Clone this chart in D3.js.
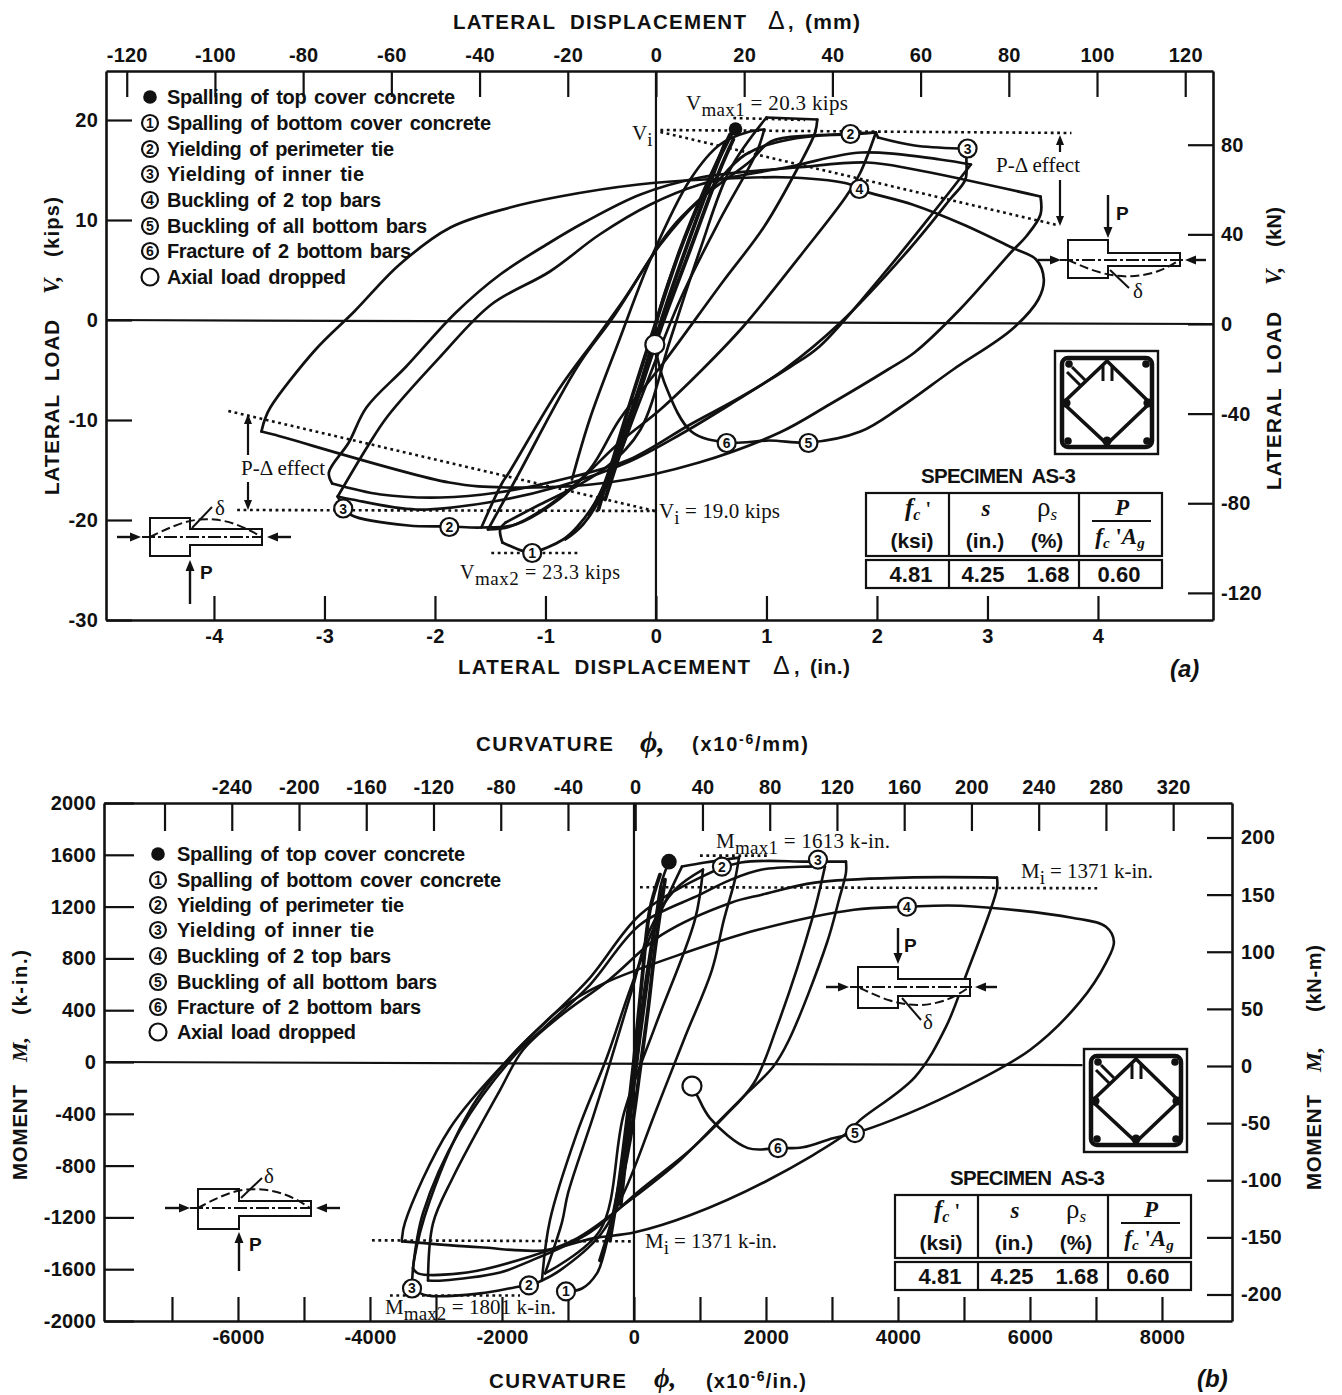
<!DOCTYPE html>
<html><head><meta charset="utf-8">
<script src="https://cdn.jsdelivr.net/npm/d3@7"></script>
<style>html,body{margin:0;background:#fff}svg{display:block}</style></head><body>
<div id="c"></div>
<script>
// ---------- tick labels ----------
const aLeftTicks=[20,10,0,-10,-20,-30], aBottomTicks=[-4,-3,-2,-1,0,1,2,3,4];
const aTopTicks=[-120,-100,-80,-60,-40,-20,0,20,40,60,80,100,120], aRightTicks=[80,40,0,-40,-80,-120];
const bLeftTicks=[2000,1600,1200,800,400,0,-400,-800,-1200,-1600,-2000];
const bBottomTicks=[-7000,-6000,-5000,-4000,-3000,-2000,-1000,0,1000,2000,3000,4000,5000,6000,7000,8000];
const bBottomLabelled=[-6000,-4000,-2000,0,2000,4000,6000,8000];
const bTopTicks=[-280,-240,-200,-160,-120,-80,-40,0,40,80,120,160,200,240,280,320];
const bTopLabelled=[-240,-200,-160,-120,-80,-40,0,40,80,120,160,200,240,280,320];
const bRightTicks=[200,150,100,50,0,-50,-100,-150,-200];
const legendLabels=["Spalling of top cover concrete","Spalling of bottom cover concrete","Yielding of perimeter tie","Yielding of inner tie","Buckling of 2 top bars","Buckling of all bottom bars","Fracture of 2 bottom bars","Axial load dropped"];
const legendMarks=["f","1","2","3","4","5","6","o"];
const legendWidths=[288,324,227,197,214,260,244,179];
const tableValues=["4.81","4.25","1.68","0.60"];

// ---------- (a) lateral load: [displacement in., load kips] ----------
const aFinal=[[3.48,12.35],[3.48,10.55],[3.35,8.35],[3.22,6.85],[2.75,1.05],[2.34,-3.25],[2.10,-4.95],[1.57,-8.45],[1.12,-11.25],[0.39,-14.25],[-0.43,-16.25],[-1.36,-16.75],[-1.87,-16.25],[-3.46,-11.45],[-3.57,-11.15],[-3.54,-9.95],[-3.49,-8.75],[-3.08,-2.95],[-2.73,0.85],[-2.32,5.55],[-1.86,9.25],[-1.32,11.25],[-0.87,12.35],[-0.16,13.55],[0.44,14.05],[1.22,14.25],[1.76,13.55],[1.84,13.05],[2.32,11.55],[2.78,9.55],[3.22,7.25],[3.44,6.05],[3.51,4.05],[3.46,2.05],[3.22,-0.95],[2.69,-4.95],[2.21,-8.75],[1.85,-11.15],[1.38,-12.25],[1.03,-12.05],[0.64,-12.25],[0.32,-11.15],[0.09,-6.65],[0.01,-3.65],[-0.01,-2.45]];
const aCycle3=[[2.82,17.15],[2.81,16.25],[2.80,14.05],[2.66,12.05],[2.29,7.05],[1.67,-0.25],[1.16,-4.95],[0.67,-8.45],[0.22,-11.45],[-0.24,-14.15],[-0.88,-16.65],[-1.52,-18.25],[-2.17,-18.95],[-2.75,-17.95],[-2.88,-17.65],[-2.61,-12.65],[-2.43,-9.65],[-1.95,-3.65],[-1.49,1.55],[-0.96,4.85],[-0.51,8.55],[-0.05,11.55],[0.40,13.55],[1.22,15.35],[1.86,16.75],[2.57,16.05],[2.85,15.55],[2.51,10.75],[2.04,4.35],[1.48,-2.65],[1.22,-4.65],[0.76,-7.75],[0.31,-10.45],[-0.24,-13.95],[-0.78,-15.75],[-1.43,-17.25],[-1.95,-17.75],[-2.49,-17.45],[-2.93,-16.35],[-2.96,-15.25],[-2.78,-12.25],[-2.62,-8.75],[-2.26,-4.65],[-1.81,0.75],[-1.41,4.55],[-0.96,7.75],[-0.65,9.75],[-0.14,12.55],[0.40,14.25],[1.27,15.25],[1.91,15.75],[2.34,15.05],[3.48,12.35]];
const aCycle2Up=[[-1.58,-20.75],[-1.39,-16.25],[-1.33,-15.25],[-0.88,-6.95],[-0.55,-1.95],[-0.29,2.05],[0.04,7.55],[0.40,12.05],[0.85,15.85],[1.04,17.85],[1.39,18.45],[1.76,18.55],[1.99,18.75],[2.01,18.25],[2.34,17.45],[2.75,17.15],[2.82,17.15]];
const aCycle2Down=[[1.99,18.75],[1.85,14.75],[1.72,12.35],[1.33,6.75],[0.79,-0.65],[0.42,-4.95],[0.04,-8.95],[-0.33,-12.25],[-0.88,-17.95],[-1.27,-20.45],[-1.58,-20.75],[-1.87,-20.65],[-2.24,-20.55],[-2.75,-19.55],[-2.82,-18.75],[-2.88,-17.65]];
const aCycle2Second=[[-1.52,-20.95],[-1.27,-15.95],[-0.71,-4.65],[-0.37,0.55],[0.13,9.05],[0.49,13.05],[0.81,16.55],[1.21,18.05],[1.99,18.75]];
const aCycle1Down=[[1.46,20.05],[1.44,18.75],[1.29,15.35],[0.98,9.35],[0.60,3.75],[0.07,-4.25],[-0.33,-9.95],[-0.60,-14.95],[-0.96,-18.45],[-1.32,-20.65],[-1.52,-20.95]];
const aPeakNeg=[[-1.36,-20.25],[-1.41,-20.95],[-1.39,-22.25],[-1.19,-23.15],[-1.12,-23.25],[-0.84,-21.95],[-0.71,-20.65],[-0.52,-17.65],[-0.39,-13.95],[-0.23,-9.25],[-0.06,-3.25],[0.06,2.05],[0.31,9.55],[0.53,15.05],[0.71,19.05]];
const aPeakPos=[[-1.36,-20.25],[-1.05,-18.45],[-0.69,-16.45],[-0.42,-14.45],[-0.14,-10.95],[0.13,-1.95],[0.40,7.05],[0.67,15.05],[1.00,20.25],[1.46,20.05]];
const aSmall=[[-0.76,-15.95],[-0.60,-9.95],[-0.33,-1.95],[-0.05,6.05],[0.31,14.05],[0.58,17.55],[0.85,18.85],[0.98,19.05],[0.91,16.75],[0.58,10.05],[0.22,2.05],[-0.14,-7.95],[-0.46,-16.95],[-0.66,-20.45],[-0.82,-21.95]];
const aBundle1=[[-0.52,-18.95],[-0.28,-9.95],[-0.05,-1.95],[0.22,7.05],[0.44,13.05],[0.67,18.55]];
const aBundle2=[[0.62,17.55],[0.35,9.55],[0.08,1.05],[-0.16,-7.45],[-0.40,-14.95],[-0.60,-19.45]];
const aBundle3=[[-0.46,-17.95],[-0.14,-6.95],[0.04,-0.95],[0.31,7.05],[0.58,15.05],[0.70,18.05]];
const aMarkers=[["f",0.72,19.1],["1",-1.12,-23.3],["2",1.76,18.6],["2",-1.87,-20.7],["3",2.82,17.15],["3",-2.83,-18.85],["4",1.84,13.1],["5",1.38,-12.3],["6",0.64,-12.3],["o",-0.01,-2.45]];
const aDotted=[[[0.04,19.0],[3.76,18.7]],[[0.04,18.8],[3.63,9.5]],[[-3.79,-19.0],[-0.01,-19.1]],[[-3.87,-9.1],[-0.01,-19.1]],[[0.70,20.2],[1.35,20.0]],[[-1.49,-23.3],[-0.71,-23.3]]];

// ---------- (b) moment: [curvature 1e-6/in., moment k-in.] ----------
const bFinalUp=[[-3121,-1687],[-3045,-1246],[-2742,-890],[-2030,-217],[-1682,93],[-1136,348],[-379,634],[424,983],[1470,1230],[1939,1292],[2742,1385],[4106,1424],[5500,1424]];
const bFinalDown=[[5500,1424],[5500,1340],[5045,689],[4727,271],[4257,-116],[3424,-449],[3227,-549],[2030,-913],[848,-1184],[15,-1315],[-621,-1362],[-1379,-1455],[-2333,-1431],[-3515,-1385],[-3515,-1362],[-3469,-1238],[-2788,-511],[-1773,93],[-1424,271],[-1076,426],[-439,611],[773,843],[1879,1021],[3333,1176],[4136,1199],[4954,1207],[6636,1114],[7151,1044],[7272,928],[7151,766],[6757,464],[6000,93],[4833,-240],[3909,-449],[3348,-549],[3015,-588],[2560,-658],[2182,-665],[1727,-665],[1151,-433],[954,-255],[879,-186]];
const bCycle3B=[[2894,1509],[2697,1099],[2166,271],[1818,-162],[1363,-426],[848,-681],[91,-990],[-667,-1315],[-1621,-1547],[-2030,-1625],[-2894,-1687],[-3121,-1687]];
const bCycle3A=[[3212,1547],[3212,1462],[3106,1253],[2924,921],[2348,170],[2106,-39],[1651,-271],[1303,-449],[697,-758],[-61,-1068],[-864,-1362],[-1621,-1509],[-2530,-1625],[-3272,-1632],[-3348,-1594],[-3197,-1168],[-2636,-526],[-1803,54],[-1348,271],[-667,596],[91,1060],[1000,1292],[1470,1408],[1939,1486],[2636,1509],[2894,1509]];
const bCycle2Tail=[[1591,1578],[1530,1408],[1363,1099],[1182,712],[773,193],[318,-395],[-136,-990],[-515,-1338],[-1121,-1609],[-1394,-1687],[-1591,-1725],[-1727,-1733],[-2333,-1787],[-3136,-1803],[-3363,-1749],[-3333,-1532],[-3091,-1068],[-2485,-371],[-1848,54],[-1303,325],[-667,650],[91,1137],[1000,1424],[1621,1540],[2636,1547],[3212,1547]];
const bCycle2Up=[[-1394,-1687],[-1273,-1222],[-864,-549],[-409,39],[-61,557],[318,1060],[727,1509],[1076,1540],[1591,1578]];
const bCycle2Second=[[-1348,-1632],[-1091,-1238],[-1000,-1014],[-621,-426],[-364,-8],[-30,557],[242,1021],[621,1331],[1045,1486],[924,1099],[318,271],[-152,-395],[-515,-1300],[-1348,-1632]];
const bPeakNeg=[[-1030,-1772],[-788,-1749],[-561,-1632],[-470,-1509],[-258,-1014],[-61,-426],[91,170],[273,867],[409,1369],[530,1547]];
const bBundle1=[[-364,-1377],[-242,-990],[-106,-449],[0,15],[121,634],[242,1176],[394,1447]];
const bBundle2=[[470,1408],[318,867],[212,402],[91,-62],[-61,-603],[-288,-1145],[-515,-1532]];
const bBundle3=[[-200,-1100],[0,-150],[150,500],[300,1000],[420,1330]];
const bMarkers=[["f",530,1547],["1",-1030,-1772],["2",1333,1509],["2",-1591,-1725],["3",2788,1563],["3",-3363,-1749],["4",4136,1199],["5",3348,-549],["6",2182,-665],["o",879,-186]];
const bDotted=[[[91,1350],[7060,1342]],[[-3970,-1377],[0,-1385]],[[1000,1594],[2030,1594]],[[-3697,-1803],[-1727,-1803]]];

// ---------- layout ----------
const W=1342,H=1395;
const svg=d3.select("#c").append("svg").attr("width",W).attr("height",H).attr("viewBox",`0 0 ${W} ${H}`);
svg.append("rect").attr("width",W).attr("height",H).attr("fill","#fff");
const SANS="'Liberation Sans',Arial,sans-serif",SERIF="'Liberation Serif','Times New Roman',serif",INK="#111";

function txt(x,y,segs,o={}){
  const t=svg.append("text").attr("x",x).attr("y",y).attr("fill",INK)
    .attr("font-family",o.family||SANS).attr("font-size",o.size||19).attr("font-weight",o.weight||400)
    .attr("text-anchor",o.anchor||"start").style("white-space","pre");
  if(o.style)t.attr("font-style",o.style);
  if(o.ws)t.style("word-spacing",o.ws+"px");
  if(o.w)t.attr("textLength",o.w).attr("lengthAdjust","spacing");
  if(o.rot)t.attr("transform",`rotate(${o.rot} ${x} ${y})`);
  (Array.isArray(segs)?segs:[[segs]]).forEach(s=>{
    const sp=t.append("tspan").text(s[0]);const p=s[1]||{};
    if(p.dy)sp.attr("dy",p.dy);if(p.size)sp.attr("font-size",p.size);
    if(p.style)sp.attr("font-style",p.style);if(p.weight)sp.attr("font-weight",p.weight);
    if(p.family)sp.attr("font-family",p.family);
  });
  return t;
}
function makeAxis(gen,vals,tr,pad,size,labelled){
  const g=svg.append("g").attr("transform",tr).call(
    gen.tickValues(vals).tickSizeInner(-size).tickSizeOuter(0).tickPadding(pad)
       .tickFormat(d=>(!labelled||labelled.includes(d))?String(d):""));
  g.selectAll("path").attr("stroke",INK).attr("stroke-width",2.6);
  g.selectAll("line").attr("stroke",INK).attr("stroke-width",2.2);
  g.selectAll("text").attr("fill",INK).attr("font-family",SANS).attr("font-size",20).attr("font-weight",700).attr("letter-spacing",0.2);
  return g;
}
// a path bends smoothly except at its sharp load reversals, where it is broken into pieces
function splitAtCorners(pts,x,y){
  const out=[];let cur=[pts[0]];
  for(let i=1;i<pts.length;i++){
    cur.push(pts[i]);
    if(i<pts.length-1){
      const ax0=x(pts[i][0])-x(pts[i-1][0]),ay0=y(pts[i][1])-y(pts[i-1][1]);
      const ax1=x(pts[i+1][0])-x(pts[i][0]),ay1=y(pts[i+1][1])-y(pts[i][1]);
      const cos=(ax0*ax1+ay0*ay1)/(Math.hypot(ax0,ay0)*Math.hypot(ax1,ay1)||1);
      if(cos<0.6){out.push(cur);cur=[pts[i]];}
    }
  }
  out.push(cur);return out;
}
function curves(list,x,y,w){
  const line=d3.line().curve(d3.curveCatmullRom.alpha(0.5)).x(d=>x(d[0])).y(d=>y(d[1]));
  const pieces=list.flatMap(p=>splitAtCorners(p,x,y));
  svg.append("g").selectAll("path").data(pieces).join("path").attr("d",line).attr("fill","none")
    .attr("stroke",INK).attr("stroke-width",w).attr("stroke-linejoin","round").attr("stroke-linecap","round");
}
function dotted(list,x,y){
  const line=d3.line().x(d=>x(d[0])).y(d=>y(d[1]));
  svg.append("g").selectAll("path").data(list).join("path").attr("d",line).attr("fill","none")
    .attr("stroke",INK).attr("stroke-width",2.6).attr("stroke-dasharray","2.8 3.6");
}
function mark(kind,cx,cy,r){
  if(kind==="f"){svg.append("circle").attr("cx",cx).attr("cy",cy).attr("r",r-1.2).attr("fill",INK);return;}
  svg.append("circle").attr("cx",cx).attr("cy",cy).attr("r",kind==="o"?r+0.5:r).attr("fill","#fff").attr("stroke",INK).attr("stroke-width",2.2);
  if(kind!=="o")txt(cx,cy+5,kind,{size:14,weight:700,anchor:"middle"});
}
function legend(mx,tx,ys){
  legendLabels.forEach((s,i)=>{mark(legendMarks[i],mx,ys[i],8);txt(tx,ys[i]+7,s,{size:20,weight:700,ws:2.5,w:legendWidths[i]});});
}
function arrowHead(x,y,dx,dy,s=9,h=4){
  const px=-dy,py=dx;
  svg.append("path").attr("d",`M${x},${y}L${x-dx*s+px*h},${y-dy*s+py*h}L${x-dx*s-px*h},${y-dy*s-py*h}Z`).attr("fill",INK);
}
function seg(x1,y1,x2,y2,w=2,dash){
  const l=svg.append("line").attr("x1",x1).attr("y1",y1).attr("x2",x2).attr("y2",y2).attr("stroke",INK).attr("stroke-width",w);
  if(dash)l.attr("stroke-dasharray",dash);
}
function arrow(x1,y1,x2,y2,w=2.4,s=11,h=4.5){
  const L=Math.hypot(x2-x1,y2-y1),dx=(x2-x1)/L,dy=(y2-y1)/L;
  seg(x1,y1,x2-dx*s*0.8,y2-dy*s*0.8,w);arrowHead(x2,y2,dx,dy,s,h);
}
function beam(c){
  const d=`M${c.bx0},${c.by0}H${c.bx1}V${c.jy0}H${c.ex}V${c.jy1}H${c.bx1}V${c.by1}H${c.bx0}Z`;
  svg.append("path").attr("d",d).attr("fill","#fff").attr("stroke",INK).attr("stroke-width",2);
  seg(c.cl0,c.cy,c.cl1,c.cy,2,"13 3 3 3");
  svg.append("path").attr("d",d3.line().curve(d3.curveBasis)(c.curve)).attr("fill","none").attr("stroke",INK).attr("stroke-width",2).attr("stroke-dasharray","9 4");
  arrow(c.al[0],c.cy,c.al[1],c.cy);arrow(c.ar[0],c.cy,c.ar[1],c.cy);
  arrow(c.bx1,c.p[0],c.bx1,c.p[1]);
  txt(c.pl[0],c.pl[1],"P",{size:19,weight:700});
  seg(c.lead[0],c.lead[1],c.lead[2],c.lead[3],2);
  txt(c.dl[0],c.dl[1],"δ",{family:SERIF,size:21});
}
function section(dx,dy){
  const g=svg.append("g").attr("transform",`translate(${dx},${dy})`);
  const S=(t,a)=>{const e=g.append(t);Object.entries(a).forEach(([k,v])=>e.attr(k,v));return e;};
  S("rect",{x:1055,y:351,width:103,height:103,fill:"#fff",stroke:INK,"stroke-width":2.4});
  S("rect",{x:1062,y:358,width:90,height:89,rx:6,fill:"none",stroke:INK,"stroke-width":4.5});
  S("path",{d:"M1107,361L1150,403L1107,444L1063,403Z",fill:"none",stroke:INK,"stroke-width":3.6});
  [[1146,364],[1147,441],[1068,441],[1069,364]].forEach(p=>S("circle",{cx:p[0],cy:p[1],r:3.8,fill:INK}));
  [[1066,403],[1148,403],[1107,441]].forEach(p=>S("circle",{cx:p[0],cy:p[1],r:4.6,fill:INK}));
  [[1067,372,1080,385],[1072,367,1085,380]].forEach(p=>S("line",{x1:p[0],y1:p[1],x2:p[2],y2:p[3],stroke:INK,"stroke-width":3}));
  [[1103,366,1103,381],[1112,366,1112,381]].forEach(p=>S("line",{x1:p[0],y1:p[1],x2:p[2],y2:p[3],stroke:INK,"stroke-width":3}));
}
function table(dx,dy){
  const R=(x,y,w,h)=>svg.append("rect").attr("x",x+dx).attr("y",y+dy).attr("width",w).attr("height",h).attr("fill","none").attr("stroke",INK).attr("stroke-width",2.2);
  R(866,493,296,63);R(866,560,296,28);
  seg(949+dx,493+dy,949+dx,556+dy,2.2);seg(1079+dx,493+dy,1079+dx,556+dy,2.2);
  seg(949+dx,560+dy,949+dx,588+dy,2.2);seg(1079+dx,560+dy,1079+dx,588+dy,2.2);
  txt(921+dx,476+dy+7,"SPECIMEN  AS-3",{size:20.5,weight:700,w:155});
  txt(918+dx,516+dy,[["f",{style:"italic"}],["c",{style:"italic",size:16,dy:4}],[" '",{size:20,dy:-4}]],{family:SERIF,size:25,weight:700,anchor:"middle"});
  txt(912+dx,548+dy,"(ksi)",{size:21,weight:700,anchor:"middle"});
  txt(986+dx,516+dy,[["s",{style:"italic"}]],{family:SERIF,size:23,weight:700,anchor:"middle"});
  txt(985+dx,548+dy,"(in.)",{size:21,weight:700,anchor:"middle"});
  txt(1047+dx,516+dy,[["ρ",{}],["s",{style:"italic",size:17,dy:4}]],{family:SERIF,size:27,anchor:"middle"});
  txt(1047+dx,548+dy,"(%)",{size:21,weight:700,anchor:"middle"});
  txt(1122+dx,515+dy,[["P",{style:"italic"}]],{family:SERIF,size:23,weight:700,anchor:"middle"});
  seg(1092+dx,521+dy,1151+dx,521+dy,2.2);
  txt(1120+dx,544+dy,[["f",{style:"italic"}],["c",{style:"italic",size:15,dy:4}],[" '",{dy:-4}],["A",{style:"italic"}],["g",{style:"italic",size:15,dy:4}]],{family:SERIF,size:23,weight:700,anchor:"middle"});
  [911,983,1048,1119].forEach((x,i)=>txt(x+dx,582+dy,tableValues[i],{size:22,weight:700,anchor:"middle"}));
}
const sub=(a,b,c)=>[[a],[b,{dy:6,size:19}],[c,{dy:-6}]];

// ---------- panel (a) ----------
const ax=d3.scaleLinear([-4.977,5.041],[106,1213]);
const ay=d3.scaleLinear([-30,24.9],[620,71]);
const axT=d3.scaleLinear([-124.7,126.3],[106,1213]);
const ayR=d3.scaleLinear([-132.1,112.9],[620,71]);
seg(ax(0),ay(24.9),ax(0),ay(-30),2.2);
seg(ax(-4.977),ay(0),ax(5.041),ay(-0.4),2.2);
curves([aFinal,aCycle3,aCycle2Up,aCycle2Down,aCycle2Second,aCycle1Down,aPeakNeg,aPeakPos,aSmall],ax,ay,2.7);
curves([aBundle1,aBundle2,aBundle3],ax,ay,3.8);
dotted(aDotted,ax,ay);
makeAxis(d3.axisLeft(ay),aLeftTicks,"translate(106,0)",8,26);
makeAxis(d3.axisBottom(ax),aBottomTicks,"translate(0,620)",9,24);
makeAxis(d3.axisTop(axT),aTopTicks,"translate(0,71)",9,26);
makeAxis(d3.axisRight(ayR),aRightTicks,"translate(1213,0)",8,25);
legend(150,167,[97,123,149,174,200,226,251,277]);
aMarkers.forEach(m=>mark(m[0],ax(m[1]),ay(m[2]),m[0]==="f"?8:9));
txt(453,29,"LATERAL  DISPLACEMENT",{size:20.5,weight:700,w:293});
txt(768,29,"Δ",{size:25});
txt(788,29,",",{size:20,weight:700});
txt(805,29,"(mm)",{size:21,weight:700,w:55});
txt(458,674,"LATERAL  DISPLACEMENT",{size:20.5,weight:700,w:292});
txt(773,674,"Δ",{size:25});
txt(794,674,",",{size:20,weight:700});
txt(810,674,"(in.)",{size:21,weight:700,w:40});
txt(59,495,"LATERAL  LOAD",{size:20.5,weight:700,rot:-90,w:175});
txt(59,294,"V,",{family:SERIF,size:23,weight:700,style:"italic",rot:-90});
txt(59,257,"(kips)",{size:20,weight:700,rot:-90,w:60});
txt(1281,490,"LATERAL  LOAD",{size:20.5,weight:700,rot:-90,w:178});
txt(1281,285,"V,",{family:SERIF,size:23,weight:700,style:"italic",rot:-90});
txt(1281,247,"(kN)",{size:20,weight:700,rot:-90,w:40});
txt(1170,677,"(a)",{size:24,weight:700,style:"italic"});
txt(686,110,sub("V","max1"," = 20.3 kips"),{family:SERIF,size:21,w:162});
txt(632,140,[["V"],["i",{dy:6,size:19}]],{family:SERIF,size:21});
txt(659,518,sub("V","i"," = 19.0 kips"),{family:SERIF,size:21,w:121});
txt(460,579,sub("V","max2"," = 23.3 kips"),{family:SERIF,size:20,w:160});
txt(996,172,"P-Δ effect",{family:SERIF,size:21,w:84});
txt(241,475,"P-Δ effect",{family:SERIF,size:21,w:84});
arrow(1060,152,1060,135,2.2,10,4);arrow(1060,180,1060,226,2.2,10,4);
arrow(248,455,248,414,2.2,10,4);arrow(248,482,248,510,2.2,10,4);
beam({bx0:1068,bx1:1108,by0:240,by1:278,jy0:253,jy1:266,ex:1180,cy:260,cl0:1060,cl1:1186,
  al:[1038,1061],ar:[1206,1185],p:[195,238],pl:[1116,220],lead:[1110,270,1129,288],dl:[1133,298],
  curve:[[1068,260],[1100,274],[1130,278],[1160,272],[1180,260]]});
beam({bx0:150,bx1:190,by0:518,by1:556,jy0:529,jy1:545,ex:262,cy:537,cl0:142,cl1:263,
  al:[117,141],ar:[291,267],p:[604,560],pl:[200,579],lead:[212,507,192,528],dl:[215,515],
  curve:[[150,537],[185,520],[215,518],[240,525],[262,537]]});
section(0,0);table(0,0);

// ---------- panel (b) ----------
const bx=d3.scaleLinear([-8030,9061],[104,1232]);
const by=d3.scaleLinear([-2000,2000],[1321,803]);
const bxT=d3.scaleLinear([-316,355],[104,1232]);
const byR=d3.scaleLinear([-223.2,230.2],[1321,803]);
seg(bx(0),by(2000),bx(0),by(-2000),2.2);
seg(bx(-8030),by(0),bx(6795),by(-24),2.2);
curves([bFinalUp,bFinalDown,bCycle3A,bCycle3B,bCycle2Tail,bCycle2Up,bCycle2Second,bPeakNeg],bx,by,2.6);
curves([bBundle1,bBundle2,bBundle3],bx,by,3.8);
dotted(bDotted,bx,by);
makeAxis(d3.axisLeft(by),bLeftTicks,"translate(104,0)",8,30);
makeAxis(d3.axisBottom(bx),bBottomTicks,"translate(0,1321)",9,24,bBottomLabelled);
makeAxis(d3.axisTop(bxT),bTopTicks,"translate(0,803)",9,28,bTopLabelled);
makeAxis(d3.axisRight(byR),bRightTicks,"translate(1232,0)",9,25);
legend(158,177,[854,880,905,930,956,982,1007,1032]);
bMarkers.forEach(m=>mark(m[0],bx(m[1]),by(m[2]),9));
txt(476,751,"CURVATURE",{size:20.5,weight:700,w:137});
txt(640,752,"ϕ,",{family:SERIF,size:30,style:"italic",weight:700});
txt(692,751,[["(x10"],["-6",{dy:-7,size:14}],["/mm)",{dy:7}]],{size:20,weight:700,w:116});
txt(489,1388,"CURVATURE",{size:20.5,weight:700,w:137});
txt(654,1387,"ϕ,",{family:SERIF,size:27,style:"italic",weight:700});
txt(706,1388,[["(x10"],["-6",{dy:-7,size:14}],["/in.)",{dy:7}]],{size:20,weight:700,w:100});
txt(27,1180,"MOMENT",{size:20.5,weight:700,rot:-90,w:95});
txt(27,1062,"M,",{family:SERIF,size:22,weight:700,style:"italic",rot:-90});
txt(27,1015,"(k-in.)",{size:20,weight:700,rot:-90,w:65});
txt(1321,1190,"MOMENT",{size:20.5,weight:700,rot:-90,w:95});
txt(1321,1072,"M,",{family:SERIF,size:22,weight:700,style:"italic",rot:-90});
txt(1321,1012,"(kN-m)",{size:20,weight:700,rot:-90,w:67});
txt(1197,1387,"(b)",{size:24,weight:700,style:"italic"});
txt(716,848,sub("M","max1"," = 1613 k-in."),{family:SERIF,size:21,w:174});
txt(1021,878,sub("M","i"," = 1371 k-in."),{family:SERIF,size:21,w:132});
txt(645,1248,sub("M","i"," = 1371 k-in."),{family:SERIF,size:21,w:132});
txt(385,1314,sub("M","max2"," = 1801 k-in."),{family:SERIF,size:21,w:171});
beam({bx0:858,bx1:898,by0:967,by1:1008,jy0:979,jy1:996,ex:970,cy:987,cl0:850,cl1:972,
  al:[826,849],ar:[997,975],p:[928,964],pl:[904,952],lead:[902,998,921,1020],dl:[923,1029],
  curve:[[860,988],[890,1002],[920,1007],[950,1000],[968,988]]});
beam({bx0:198,bx1:239,by0:1189,by1:1229,jy0:1201,jy1:1216,ex:311,cy:1208,cl0:190,cl1:312,
  al:[165,190],ar:[340,316],p:[1271,1232],pl:[249,1251],lead:[262,1178,241,1198],dl:[264,1183],
  curve:[[198,1208],[232,1190],[262,1188],[290,1195],[310,1208]]});
section(29,698);table(29,702);
</script>
</body></html>
